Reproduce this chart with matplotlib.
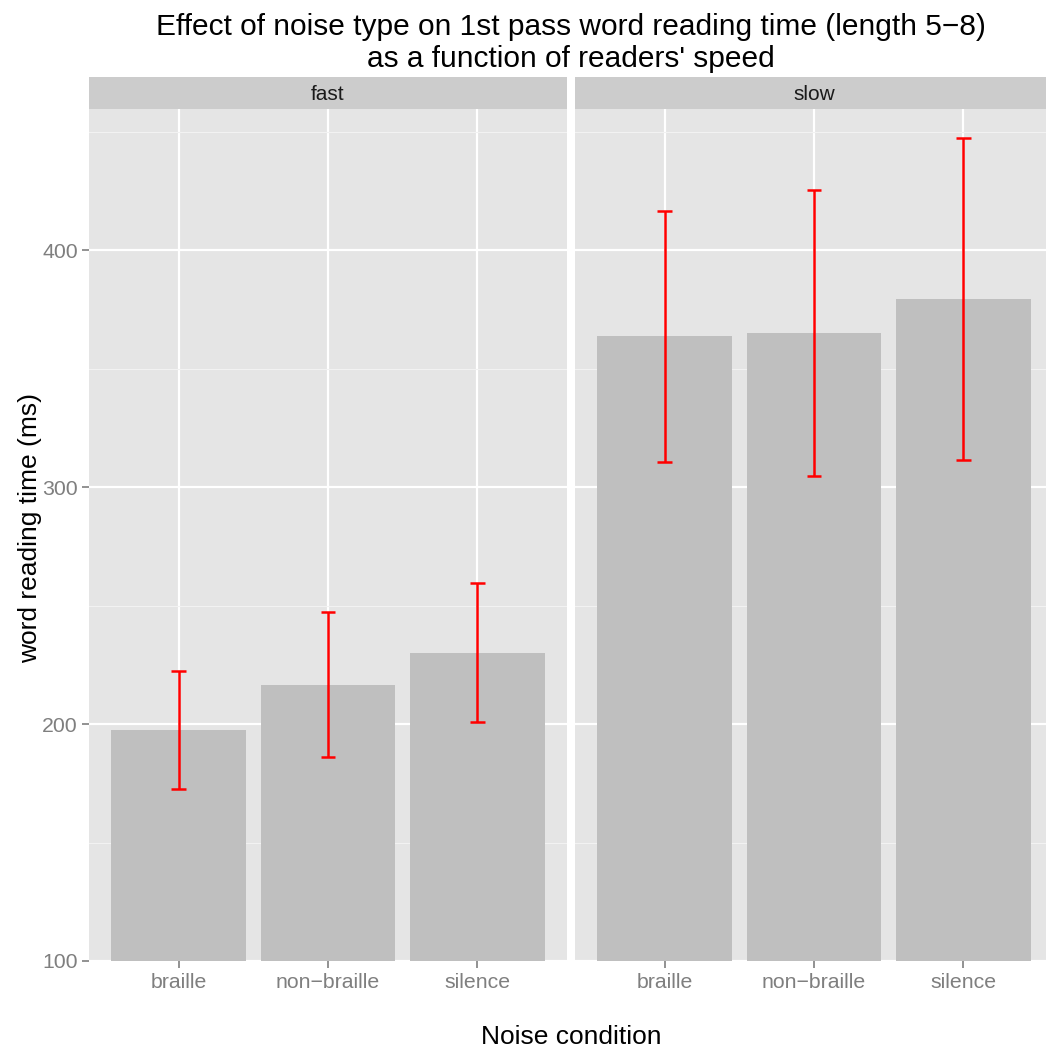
import matplotlib
matplotlib.use("Agg")
import matplotlib.pyplot as plt
from matplotlib.ticker import FixedLocator

plt.rcParams['font.family'] = ['Liberation Sans', 'DejaVu Sans']

speeds = ["fast", "slow"]
conditions = ["braille", "non\u2212braille", "silence"]
means = {
    "fast": [197.4, 216.4, 230.0],
    "slow": [363.8, 365.0, 379.3],
}
err_low = {
    "fast": [172.6, 185.9, 200.8],
    "slow": [310.5, 304.6, 311.4],
}
err_high = {
    "fast": [222.3, 247.2, 259.5],
    "slow": [416.5, 425.3, 447.3],
}
y_ticks = [100, 200, 300, 400]
y_minor = [150, 250, 350, 450]

W, H = 1046, 1050
fig = plt.figure(figsize=(W / 100, H / 100), dpi=100)

panel_bg = "#E5E5E5"
strip_bg = "#CCCCCC"
bar_col = "#BFBFBF"
tick_col = "#7F7F7F"

left_px = [89, 575]
pw = 478
top_px, bot_px = 109, 961
strip_top = 77
ylim = (100, 459.5)

for i, sp in enumerate(speeds):
    ax = fig.add_axes([left_px[i] / W, 1 - bot_px / H, pw / W, (bot_px - top_px) / H])
    ax.set_facecolor(panel_bg)
    for s in ax.spines.values():
        s.set_visible(False)
    x = list(range(1, len(conditions) + 1))
    ax.set_xlim(0.4, 3.6)
    ax.set_ylim(*ylim)
    ax.set_axisbelow(True)
    ax.yaxis.set_major_locator(FixedLocator(y_ticks))
    ax.yaxis.set_minor_locator(FixedLocator(y_minor))
    ax.set_xticks(x)
    ax.set_xticklabels(conditions)
    ax.grid(which="major", axis="both", color="white", linewidth=1.6)
    ax.grid(which="minor", axis="y", color="#F2F2F2", linewidth=0.8)
    ax.bar(x, [m - ylim[0] for m in means[sp]], bottom=ylim[0], width=0.9,
           color=bar_col, zorder=2)
    for xi, lo, hi in zip(x, err_low[sp], err_high[sp]):
        ax.plot([xi, xi], [lo, hi], color="red", linewidth=1.8, zorder=3,
                solid_capstyle="butt")
        for yv in (lo, hi):
            ax.plot([xi - 0.05, xi + 0.05], [yv, yv], color="red",
                    linewidth=1.8, zorder=3, solid_capstyle="butt")
    ax.tick_params(axis="both", which="major", colors=tick_col, labelsize=15.3,
                   length=5, width=1.2, labelcolor=tick_col)
    ax.tick_params(axis="x", pad=4)
    ax.tick_params(axis="y", pad=3)
    ax.tick_params(axis="y", which="minor", length=0)
    if i == 0:
        ax.set_yticklabels([str(t) for t in y_ticks])
    else:
        ax.tick_params(axis="y", which="major", length=0, labelleft=False)
    # strip
    sax = fig.add_axes([left_px[i] / W, 1 - top_px / H, pw / W, (top_px - strip_top) / H])
    sax.set_facecolor(strip_bg)
    sax.set_xticks([])
    sax.set_yticks([])
    for s in sax.spines.values():
        s.set_visible(False)
    sax.text(0.5, 0.45, sp, ha="center", va="center", fontsize=15,
             color="#1A1A1A", transform=sax.transAxes)

fig.text(571 / W, 1 - 43 / H,
         "Effect of noise type on 1st pass word reading time (length 5\u22128)\nas a function of readers' speed",
         ha="center", va="center", fontsize=21.5, linespacing=1.15)
fig.text(571 / W, 1 - 1037 / H, "Noise condition", ha="center", va="center",
         fontsize=19)
fig.text(30 / W, 1 - 528 / H, "word reading time (ms)", ha="center",
         va="center", rotation=90, fontsize=19)

fig.savefig("out.png", dpi=100)
